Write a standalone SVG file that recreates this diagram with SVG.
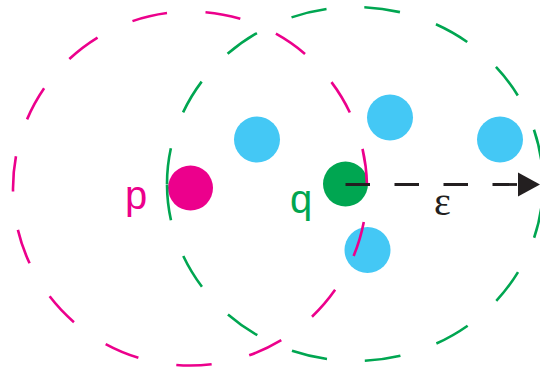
<svg xmlns="http://www.w3.org/2000/svg" width="540" height="370" viewBox="0 0 540 370">
<style>
.pt{fill:#44C8F5}
.ring{fill:none;stroke-width:2.6}
.lbl{font-family:"Liberation Sans",Arial,sans-serif;font-size:40px}
</style>
<rect width="540" height="370" fill="#ffffff"/>
<g id="n1"><circle class="pt" cx="257" cy="139.5" r="23"/></g>
<g id="n2"><circle class="pt" cx="390" cy="117.5" r="23"/></g>
<g id="n3"><circle class="pt" cx="500" cy="139.5" r="23"/></g>
<g id="n4"><circle class="pt" cx="367.5" cy="250" r="23"/></g>
<g id="p"><circle cx="190.5" cy="188" r="22.5" fill="#EC008C"/><text class="lbl" x="125" y="209" fill="#EC008C">p</text></g>
<g id="q"><circle cx="345.5" cy="184" r="22.5" fill="#00A651"/><text class="lbl" x="290" y="213" fill="#00A651">q</text></g>
<g id="connectors">
<path id="ring-p" class="ring" stroke="#EC008C" stroke-dasharray="35.5 38.64" stroke-dashoffset="40.4" d="M367,188.5 A177,177 0 0 1 13,188.5 A177,177 0 0 1 367,188.5"/>
<path id="ring-q" class="ring" stroke="#00A651" stroke-dasharray="36 38" d="M167,184 A188,177 0 0 1 543,184 A188,177 0 0 1 167,184"/>
<line x1="345.5" y1="184.5" x2="518" y2="184.5" stroke="#231F20" stroke-width="2.8" stroke-dasharray="24.5 24.5"/>
<polygon points="518,172.5 540,184.5 518,196.5" fill="#231F20"/>
</g>
<text x="434" y="215" font-family="'Liberation Serif','Times New Roman',serif" font-size="40" fill="#231F20">ε</text>
</svg>
